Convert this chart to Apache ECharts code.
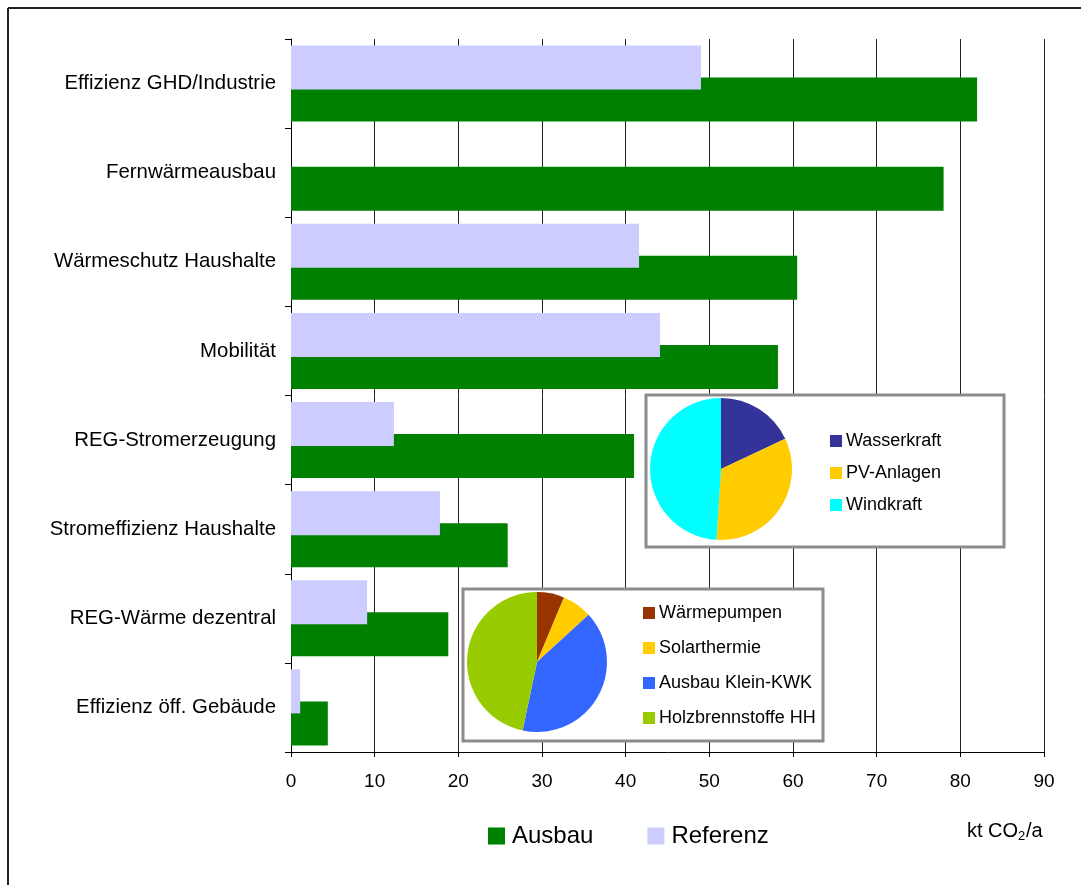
<!DOCTYPE html>
<html>
<head>
<meta charset="utf-8">
<script src="https://cdn.jsdelivr.net/npm/echarts@6/dist/echarts.min.js"></script>
<style>
html,body{margin:0;padding:0;background:#fff;}
#chart{width:1081px;height:885px;}
</style>
</head>
<body>
<div id="chart"></div>
<script>
const categories = ['Effizienz GHD/Industrie','Fernwärmeausbau','Wärmeschutz Haushalte','Mobilität','REG-Stromerzeugung','Stromeffizienz Haushalte','REG-Wärme dezentral','Effizienz öff. Gebäude'];
const ausbau = [82, 78, 60.5, 58.2, 41, 25.9, 18.8, 4.4];
const referenz = [49, 0, 41.6, 44.1, 12.3, 17.8, 9.1, 1.1];
const xTicks = [0,10,20,30,40,50,60,70,80,90];
const stromNames = ['Wasserkraft','PV-Anlagen','Windkraft'];
const stromValues = [18, 33, 49];
const waermeNames = ['Wärmepumpen','Solarthermie','Ausbau Klein-KWK','Holzbrennstoffe HH'];
const waermeValues = [6.3, 6.9, 40.1, 46.7];

const FONT = 'Liberation Sans, Arial, sans-serif';
const chart = echarts.init(document.getElementById('chart'));
const option = {
  animation: false,
  backgroundColor: '#fff',
  textStyle: {fontFamily: FONT, color: '#000'},
  grid: {left: 291, top: 39, width: 753, height: 713, containLabel: false},
  xAxis: {
    type: 'value', min: xTicks[0], max: xTicks[xTicks.length-1], interval: 10,
    axisLine: {show: true, lineStyle: {color: '#000', width: 1}},
    axisTick: {show: true, length: 5, lineStyle: {color: '#000'}},
    axisLabel: {fontSize: 19, color: '#000', margin: 20, fontFamily: FONT},
    splitLine: {show: true, lineStyle: {color: '#222', width: 1}}
  },
  yAxis: {
    type: 'category', data: categories, inverse: true,
    axisLine: {show: true, lineStyle: {color: '#000', width: 1}},
    axisTick: {show: true, length: 6, alignWithLabel: false, lineStyle: {color: '#000'}},
    axisLabel: {fontSize: 20.4, color: '#000', margin: 15, fontFamily: FONT},
    splitLine: {show: false}
  },
  legend: [
    {
      data: ['Ausbau','Referenz'], left: 488, top: 824, orient: 'horizontal', padding: 0,
      icon: 'rect', itemWidth: 17, itemHeight: 17, itemGap: 54,
      textStyle: {fontSize: 24, color: '#000', fontFamily: FONT, lineHeight: 24, padding: [0,0,0,2]},
      selectedMode: false
    },
    {
      data: stromNames, left: 830, top: 431, orient: 'vertical', z: 12, padding: 0,
      icon: 'rect', itemWidth: 12, itemHeight: 12, itemGap: 12,
      textStyle: {fontSize: 18, color: '#000', fontFamily: FONT, lineHeight: 20, padding: [0,0,0,-1]},
      selectedMode: false
    },
    {
      data: waermeNames, left: 643, top: 603, orient: 'vertical', z: 12, padding: 0,
      icon: 'rect', itemWidth: 12, itemHeight: 12, itemGap: 15,
      textStyle: {fontSize: 18, color: '#000', fontFamily: FONT, lineHeight: 20, padding: [0,0,0,-1]},
      selectedMode: false
    }
  ],
  graphic: [
    {type: 'line', z: 5, shape: {x1: 8, y1: 8, x2: 1081, y2: 8}, style: {stroke: '#222', lineWidth: 2}},
    {type: 'line', z: 5, shape: {x1: 8, y1: 8, x2: 8, y2: 885}, style: {stroke: '#222', lineWidth: 2}},
    {type: 'rect', z: 5, shape: {x: 646, y: 395, width: 358, height: 152}, style: {fill: '#fff', stroke: '#8c8c8c', lineWidth: 3}},
    {type: 'rect', z: 5, shape: {x: 463, y: 589, width: 360, height: 152}, style: {fill: '#fff', stroke: '#8c8c8c', lineWidth: 3}},
    {type: 'text', z: 5, left: 967, top: 821, style: {text: 'kt CO', font: '20px ' + FONT, fill: '#000'}},
    {type: 'text', z: 5, left: 1018, top: 830, style: {text: '2', font: '13px ' + FONT, fill: '#000'}},
    {type: 'text', z: 5, left: 1026, top: 821, style: {text: '/a', font: '20px ' + FONT, fill: '#000'}}
  ],
  series: [
    {
      name: 'Referenz', type: 'bar', data: referenz, barWidth: 44, barGap: '-27%',
      itemStyle: {color: '#CCCCFF'}, z: 3, silent: true
    },
    {
      name: 'Ausbau', type: 'bar', data: ausbau, barWidth: 44, barGap: '-27%',
      itemStyle: {color: '#008000'}, z: 2, silent: true
    },
    {
      name: 'Strom', type: 'pie', center: [721, 469], radius: 71, startAngle: 90, clockwise: true,
      z: 10, silent: true, label: {show: false}, labelLine: {show: false},
      data: stromNames.map((n,i)=>({name: n, value: stromValues[i]})),
      color: ['#333399','#FFCC00','#00FFFF'],
      itemStyle: {borderWidth: 0}
    },
    {
      name: 'Waerme', type: 'pie', center: [537, 662], radius: 70, startAngle: 90, clockwise: true,
      z: 10, silent: true, label: {show: false}, labelLine: {show: false},
      data: waermeNames.map((n,i)=>({name: n, value: waermeValues[i]})),
      color: ['#993300','#FFCC00','#3366FF','#99CC00'],
      itemStyle: {borderWidth: 0}
    }
  ]
};
chart.setOption(option);
</script>
</body>
</html>
